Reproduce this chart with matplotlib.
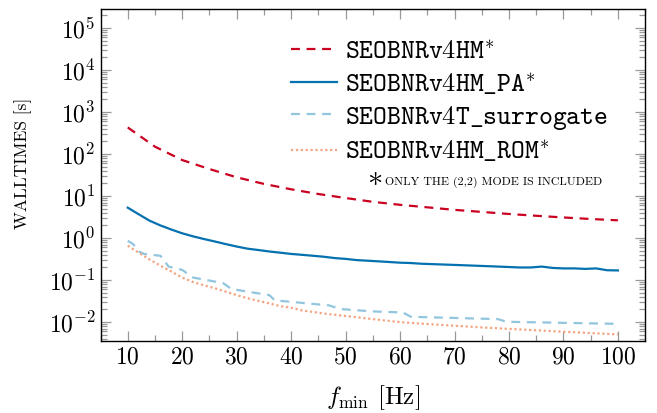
import numpy as np
import matplotlib
matplotlib.use("Agg")
import matplotlib.pyplot as plt
from matplotlib.ticker import LogLocator, MultipleLocator, NullFormatter

plt.rcParams["font.family"] = "cmr10"
plt.rcParams["mathtext.fontset"] = "cm"
plt.rcParams["axes.formatter.use_mathtext"] = True

# walltimes vs starting frequency
f_hm = [10, 15, 20, 25, 30, 35, 40, 45, 50, 55, 60, 65, 70, 75, 80, 85, 90, 95, 100]
t_hm = [430, 150, 72, 44, 28, 19.5, 14.5, 11.2, 9.0, 7.3, 6.2, 5.4, 4.7, 4.2, 3.75, 3.4, 3.1, 2.85, 2.65]

f_pa = [10, 12, 14, 16, 18, 20, 22, 24, 26, 28, 30, 32, 34, 36, 38, 40, 42, 44, 46, 48,
        50, 52, 54, 56, 58, 60, 62, 64, 66, 68, 70, 72, 74, 76, 78, 80, 82, 84, 86, 88,
        90, 92, 94, 96, 98, 100]
t_pa = [5.3, 3.7, 2.6, 2.0, 1.6, 1.3, 1.1, 0.95, 0.83, 0.72, 0.63, 0.56, 0.52, 0.48, 0.45, 0.42, 0.40, 0.38, 0.36, 0.335,
        0.32, 0.30, 0.29, 0.28, 0.27, 0.26, 0.255, 0.245, 0.24, 0.235, 0.23, 0.225, 0.22, 0.215, 0.21, 0.205, 0.20, 0.20, 0.21, 0.195,
        0.19, 0.19, 0.185, 0.19, 0.172, 0.17]

f_sur = [10, 11, 12, 13, 16, 17.5, 20, 22, 27.5, 29, 32, 36, 37, 47, 49, 55, 60.5, 62, 78, 79.5, 100]
t_sur = [0.86, 0.72, 0.48, 0.42, 0.38, 0.21, 0.175, 0.115, 0.085, 0.062, 0.053, 0.044, 0.033, 0.025, 0.0205,
         0.018, 0.017, 0.0134, 0.0118, 0.0102, 0.0091]

f_rom = [10, 12, 14, 16, 18, 20, 22, 24, 26, 28, 30, 32, 34, 36, 38, 40, 42, 44, 46, 48, 50,
         55, 60, 65, 70, 75, 80, 85, 90, 95, 100]
t_rom = [0.66, 0.45, 0.31, 0.22, 0.16, 0.115, 0.09, 0.075, 0.064, 0.053, 0.044, 0.037, 0.032, 0.028, 0.024,
         0.022, 0.019, 0.0175, 0.016, 0.015, 0.014, 0.0118, 0.010, 0.009, 0.0082, 0.0075, 0.0069, 0.0064,
         0.0059, 0.0055, 0.0051]

fig = plt.figure(figsize=(6.57, 4.13), dpi=100)
ax = fig.add_axes([0.153, 0.174, 0.829, 0.803])

ax.plot(f_hm, t_hm, color="#ca0020", lw=1.6, ls=(0, (4, 3)),
        label=r"$\mathtt{SEOBNRv4HM}^{*}$")
ax.plot(f_pa, t_pa, color="#0571b0", lw=1.6,
        label=r"$\mathtt{SEOBNRv4HM\_PA}^{*}$")
ax.plot(f_sur, t_sur, color="#92c5de", lw=1.6, ls=(0, (4, 3)),
        label=r"$\mathtt{SEOBNRv4T\_surrogate}$")
ax.plot(f_rom, t_rom, color="#f4a582", lw=1.6, ls=(0, (1, 1.2)),
        label=r"$\mathtt{SEOBNRv4HM\_ROM}^{*}$")

ax.set_yscale("log")
ax.set_xlim(5, 105)
ax.set_ylim(3.53e-3, 2.76e5)
ax.xaxis.set_minor_locator(MultipleLocator(5))
ax.set_xticks(range(10, 101, 10))
ax.yaxis.set_major_locator(LogLocator(base=10, numticks=20))
ax.yaxis.set_minor_locator(LogLocator(base=10, subs=np.arange(2, 10), numticks=20))
ax.yaxis.set_minor_formatter(NullFormatter())

ax.tick_params(which="both", direction="in", top=True, right=True, color="#999999",
               width=0.9, labelsize=17)
ax.tick_params(which="major", length=7.5)
ax.tick_params(which="minor", length=4.5)
for s in ax.spines.values():
    s.set_linewidth(1.0)

ax.set_xlabel(r"$f_{\rm min}$ [Hz]", fontsize=18, labelpad=11)
ax.set_ylabel("WALLTIMES [s]", fontsize=12.5)
ax.yaxis.set_label_coords(-0.125, 0.535)

ax.legend(loc="upper left", bbox_to_anchor=(0.33, 0.94), frameon=False, fontsize=19,
          handlelength=1.75, handletextpad=0.3, labelspacing=0.27, borderaxespad=0)

ax.text(0.49, 0.472, r"$\ast$", transform=ax.transAxes, fontsize=22, va="baseline", ha="left")
ax.text(0.522, 0.472, "ONLY THE (2,2) MODE IS INCLUDED", transform=ax.transAxes,
        fontsize=8.6, va="baseline", ha="left")

fig.savefig("out.png", dpi=100)
